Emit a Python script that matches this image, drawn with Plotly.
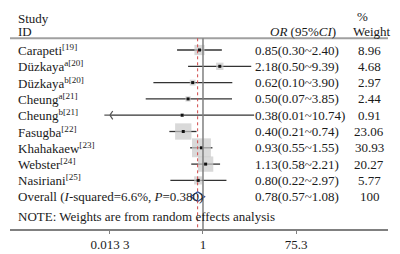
import plotly.graph_objects as go

studies = ["Carapeti<sup>[19]</sup>", "Düzkaya<sup>a[20]</sup>", "Düzkaya<sup>b[20]</sup>",
           "Cheung<sup>a[21]</sup>", "Cheung<sup>b[21]</sup>", "Fasugba<sup>[22]</sup>",
           "Khahakaew<sup>[23]</sup>", "Webster<sup>[24]</sup>", "Nasiriani<sup>[25]</sup>"]
or_est = [0.85, 2.18, 0.62, 0.50, 0.38, 0.40, 0.93, 1.13, 0.80]
ci_lo = [0.30, 0.50, 0.10, 0.07, 0.01, 0.21, 0.55, 0.58, 0.22]
ci_hi = [2.40, 9.39, 3.90, 3.85, 10.74, 0.74, 1.55, 2.21, 2.97]
weights = [8.96, 4.68, 2.97, 2.44, 0.91, 23.06, 30.93, 20.27, 5.77]
overall_label = "Overall (<i>I</i>-squared=6.6%, <i>P</i>=0.380)"
overall_est, overall_lo, overall_hi, overall_w = 0.78, 0.57, 1.08, 100
note = "NOTE: Weights are from random effects analysis"
tick_vals = [0.0133, 1, 75.3]
tick_text = ["0.013 3", "1", "75.3"]
x_min = 0.0133

FONT = "Liberation Serif"
FS = 13
TXT = "#1a1a1a"

rows = list(range(len(studies)))
row_overall = len(studies)

fig = go.Figure()

# CI lines (clipped at axis minimum)
lx, ly = [], []
for i, (lo, hi) in enumerate(zip(ci_lo, ci_hi)):
    lx += [max(lo, x_min), hi, None]
    ly += [i, i, None]
fig.add_trace(go.Scatter(x=lx, y=ly, mode="lines", line=dict(color="#333333", width=1.3),
                         hoverinfo="skip", showlegend=False))

# weight boxes
fig.add_trace(go.Scatter(x=or_est, y=rows, mode="markers",
                         marker=dict(symbol="square", size=[3.4 * w ** 0.5 for w in weights],
                                     color="#c9c9c9", line=dict(width=0)),
                         showlegend=False))
# arrows for clipped CIs
ax_, ay_ = [], []
for i, lo in enumerate(ci_lo):
    if lo < x_min:
        ax_.append(x_min)
        ay_.append(i)
fig.add_trace(go.Scatter(x=ax_, y=ay_, mode="markers",
                         marker=dict(symbol="y-left", size=7, color="#555",
                                     line=dict(width=1.2, color="#555")),
                         showlegend=False))
# point estimates
fig.add_trace(go.Scatter(x=or_est, y=rows, mode="markers",
                         marker=dict(symbol="square", size=3, color="#111"),
                         showlegend=False))
# overall diamond
h = 0.3
fig.add_trace(go.Scatter(x=[overall_lo, overall_est, overall_hi, overall_est, overall_lo],
                         y=[row_overall, row_overall - h, row_overall, row_overall + h, row_overall],
                         mode="lines", line=dict(color="#2b4c9a", width=1.2),
                         showlegend=False))

y_top = -0.718
y_bot = 10.982
# header line
fig.add_shape(type="line", xref="paper", yref="y", x0=0, x1=1, y0=y_top, y1=y_top,
              line=dict(color="#a0a0a0", width=2))
# null line
fig.add_shape(type="line", xref="x", yref="y", x0=1, x1=1, y0=y_top, y1=y_bot,
              line=dict(color="#808080", width=1.5))
# overall dotted line
fig.add_shape(type="line", xref="x", yref="y", x0=overall_est, x1=overall_est, y0=y_top, y1=y_bot,
              line=dict(color="#d04848", width=1, dash="dot"))

def px(p):
    return (p - 10) / 378.0

ann = []
def add(text, x, y, anchor="left"):
    ann.append(dict(text=text, x=x, y=y, xref="paper", yref="y", xanchor=anchor, yanchor="middle",
                    showarrow=False, font=dict(family=FONT, size=FS, color=TXT)))

add("Study", px(16), -1.95)
add("ID", px(16), -1.15)
add("<i>OR</i> (95%<i>CI</i>)", px(338), -1.15, "right")
add("%", px(355), -2.07)
add("Weight", px(351), -1.15)

for i, s in enumerate(studies):
    add(s, px(16), i)
    add(f"{or_est[i]:.2f}({ci_lo[i]:.2f}~{ci_hi[i]:.2f})", px(253), i)
    add(f"{weights[i]:.2f}", px(369), i, "center")
add(overall_label, px(16), row_overall)
add(f"{overall_est:.2f}({overall_lo:.2f}~{overall_hi:.2f})", px(253), row_overall)
add(f"{overall_w}", px(370), row_overall, "center")
add(note, px(16), 10.2)

# the page body adds an 8px offset, so the figure's plot area is placed to compensate
fig.update_layout(
    width=400, height=254,
    margin=dict(l=2, r=20, t=0, b=33),
    paper_bgcolor="white", plot_bgcolor="white",
    annotations=ann,
    xaxis=dict(type="log", range=[-3.891, 3.730], tickvals=tick_vals, ticktext=tick_text,
               showgrid=False, zeroline=False, showline=True, linecolor="#808080", linewidth=1.5,
               ticks="outside", ticklen=3, tickcolor="#808080",
               tickfont=dict(family=FONT, size=FS, color=TXT)),
    yaxis=dict(range=[y_bot, -2.577], visible=False, showgrid=False, zeroline=False),
    showlegend=False,
)

fig.write_html("out.html")
